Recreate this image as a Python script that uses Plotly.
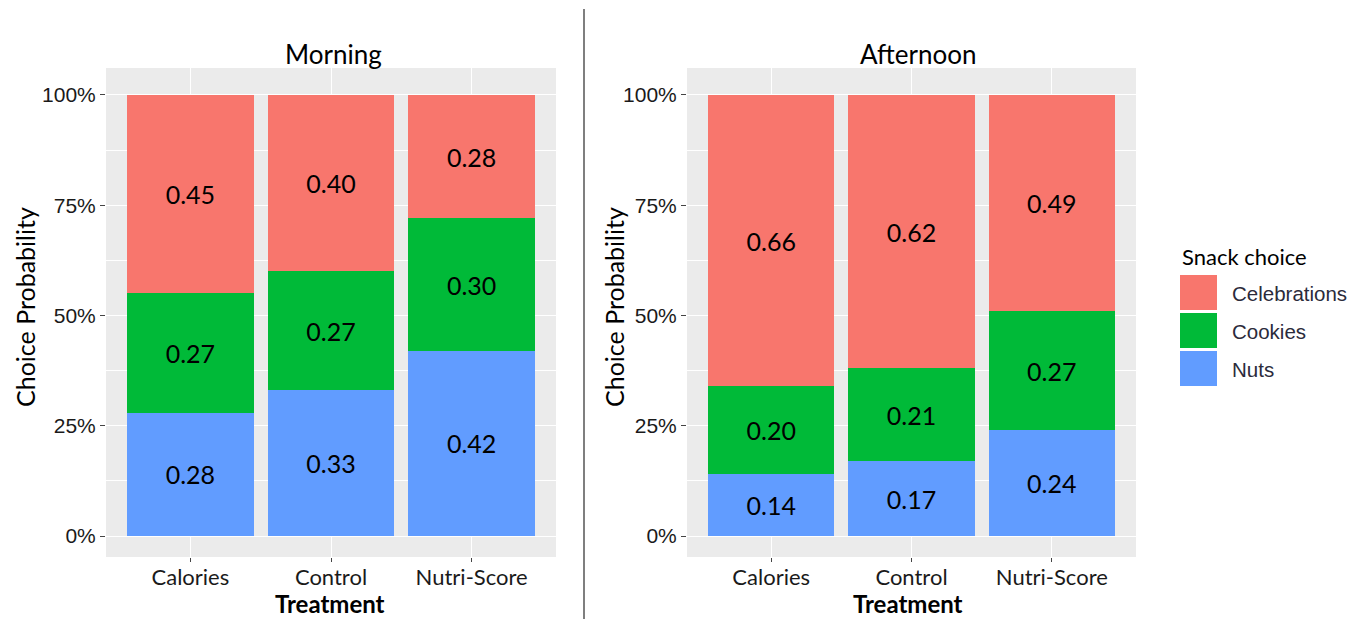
import plotly.graph_objects as go

# ---- data -------------------------------------------------------------
treatments = ["Calories", "Control", "Nutri-Score"]
snacks = ["Nuts", "Cookies", "Celebrations"]  # stacking order, bottom to top
snack_colors = {"Celebrations": "#F8766D", "Cookies": "#00BA38", "Nuts": "#619CFF"}

morning_nuts = [0.28, 0.33, 0.42]
morning_cookies = [0.27, 0.27, 0.30]
morning_celebrations = [0.45, 0.40, 0.28]

afternoon_nuts = [0.14, 0.17, 0.24]
afternoon_cookies = [0.20, 0.21, 0.27]
afternoon_celebrations = [0.66, 0.62, 0.49]

panel_titles = ["Morning", "Afternoon"]
y_tick_vals = [0, 0.25, 0.5, 0.75, 1.0]
y_tick_text = ["0%", "25%", "50%", "75%", "100%"]
legend_order = ["Celebrations", "Cookies", "Nuts"]

# ---- layout helpers ---------------------------------------------------
W, H = 1357, 619
BG = "#EBEBEB"
CAL = "Lato, 'Open Sans', sans-serif"
ARIAL = "'Liberation Sans', Arial, sans-serif"


def px(x):
    return x / W


def py(y):
    return 1 - y / H


panels = [
    {"x": "x", "y": "y", "data": {"Nuts": morning_nuts, "Cookies": morning_cookies,
                                   "Celebrations": morning_celebrations}},
    {"x": "x2", "y": "y2", "data": {"Nuts": afternoon_nuts, "Cookies": afternoon_cookies,
                                     "Celebrations": afternoon_celebrations}},
]

fig = go.Figure()
for p in panels:
    for s in snacks:
        vals = p["data"][s]
        fig.add_trace(go.Bar(
            x=treatments, y=vals, name=s,
            xaxis=p["x"], yaxis=p["y"],
            width=0.9,
            marker=dict(color=snack_colors[s], line=dict(width=0)),
            text=[f"{v:.2f}" for v in vals],
            textposition="inside", insidetextanchor="middle", textangle=0,
            textfont=dict(family=CAL, size=25, color="#000000"),
            constraintext="none",
            showlegend=False, hoverinfo="skip",
        ))

x_domains = [[px(106), px(556)], [px(687), px(1136)]]
y_domain = [py(557), py(68)]


def xaxis_cfg(dom, anchor):
    return dict(
        domain=dom, anchor=anchor, type="category", range=[-0.6, 2.6],
        showgrid=True, gridcolor="white", gridwidth=1.4,
        ticks="outside", ticklen=4, tickcolor="#444", tickwidth=1,
        ticklabelstandoff=-3,
        tickfont=dict(family=CAL, size=22, color="#1a1a1a"),
        showline=False, zeroline=False, fixedrange=True,
    )


def yaxis_cfg(anchor):
    return dict(
        domain=y_domain, anchor=anchor, range=[-0.0476, 1.0612],
        tickvals=y_tick_vals, ticktext=y_tick_text,
        showgrid=True, gridcolor="white", gridwidth=1.4,
        minor=dict(tickvals=[0.125, 0.375, 0.625, 0.875], showgrid=True,
                   gridcolor="white", gridwidth=0.7, ticks=""),
        ticks="outside", ticklen=5, tickcolor="#444", tickwidth=1,
        tickfont=dict(family=ARIAL, size=21, color="#1a1a1a"),
        showline=False, zeroline=False, fixedrange=True,
    )


fig.update_layout(
    width=W, height=H, autosize=False,
    margin=dict(l=0, r=0, t=0, b=0),
    paper_bgcolor="white", plot_bgcolor=BG,
    barmode="stack", bargap=0.1,
    showlegend=False,
    xaxis=xaxis_cfg(x_domains[0], "y"),
    xaxis2=xaxis_cfg(x_domains[1], "y2"),
    yaxis=yaxis_cfg("x"),
    yaxis2=yaxis_cfg("x2"),
)

annotations = []
shapes = []

# panel titles, axis titles
title_pos = [(333, 54), (918, 54)]
ytitle_pos = [(25, 307), (614, 307)]
xtitle_pos = [(330, 603), (908, 603)]
for i in range(2):
    tx, ty = title_pos[i]
    annotations.append(dict(text=panel_titles[i], x=px(tx), y=py(ty), xref="paper", yref="paper",
                            showarrow=False, xanchor="center", yanchor="middle",
                            font=dict(family=CAL, size=26, color="#000000")))
    ax, ay = ytitle_pos[i]
    annotations.append(dict(text="Choice Probability", x=px(ax), y=py(ay), xref="paper", yref="paper",
                            showarrow=False, textangle=-90, xanchor="center", yanchor="middle",
                            font=dict(family=CAL, size=25, color="#000000")))
    bx, by = xtitle_pos[i]
    annotations.append(dict(text="<b>Treatment</b>", x=px(bx), y=py(by), xref="paper", yref="paper",
                            showarrow=False, xanchor="center", yanchor="middle",
                            font=dict(family=CAL, size=24, color="#000000")))

# divider between the two panels
shapes.append(dict(type="line", xref="paper", yref="paper",
                   x0=px(584), x1=px(584), y0=py(9), y1=py(619),
                   line=dict(color="#555555", width=1.5)))

# legend
annotations.append(dict(text="Snack choice", x=px(1180), y=py(256), xref="paper", yref="paper",
                        showarrow=False, xanchor="left", yanchor="middle",
                        font=dict(family=CAL, size=22, color="#000000")))
sw_top = [275, 313, 351]
for s, top in zip(legend_order, sw_top):
    shapes.append(dict(type="rect", xref="paper", yref="paper",
                       x0=px(1180), x1=px(1217), y0=py(top + 35), y1=py(top),
                       fillcolor=snack_colors[s], line=dict(width=0)))
    annotations.append(dict(text=s, x=px(1230), y=py(top + 18), xref="paper", yref="paper",
                            showarrow=False, xanchor="left", yanchor="middle",
                            font=dict(family=ARIAL, size=20.5, color="#2b2b3b")))

fig.update_layout(annotations=annotations, shapes=shapes)
fig.write_html("out.html")
